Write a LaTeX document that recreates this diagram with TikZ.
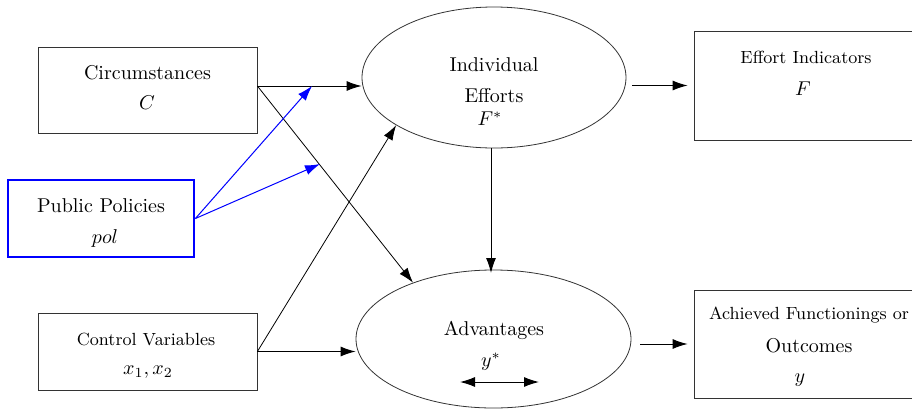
\documentclass[tikz,border=0pt]{standalone}
\usetikzlibrary{arrows.meta,shapes.geometric}
\begin{document}
\begin{tikzpicture}[x=0.5pt,y=-0.5pt,
  box/.style={draw=black!80,line width=0.4pt,rectangle,inner sep=0pt},
  pbox/.style={draw=blue,line width=1.4pt,rectangle,inner sep=0pt},
  ell/.style={draw=black!80,line width=0.4pt,ellipse,inner sep=0pt},
  big/.style={font=\fontsize{10}{12}\selectfont,inner sep=0pt},
  small/.style={font=\fontsize{8.8}{11}\selectfont,inner sep=0pt},
  arr/.style={-{Latex[length=7.5pt,width=5pt]},line width=0.5pt},
  thin/.style={line width=0.4pt},
  barr/.style={-{Latex[length=7.5pt,width=5pt]},line width=0.5pt,blue}]
\useasboundingbox (0,0) rectangle (912,408);
% boxes
\node[box,minimum width=109.5pt,minimum height=43pt] (circ) at (147.5,90) {};
\node[pbox,minimum width=93pt,minimum height=38.5pt] (pol) at (101,218.5) {};
\node[box,minimum width=109.5pt,minimum height=38.5pt] (ctrl) at (147.5,351.5) {};
\node[box,minimum width=109.5pt,minimum height=54.5pt] (effi) at (803.5,85.5) {};
\node[box,minimum width=109.5pt,minimum height=54pt] (outc) at (803.5,344) {};
\node[ell,minimum width=132pt,minimum height=70.5pt] (ie) at (494,77.5) {};
\node[ell,minimum width=137.5pt,minimum height=69pt] (adv) at (493.5,339) {};
% texts
\node[big] (circT) at (147.5,73) {Circumstances};
\node[big] (circM) at (147,103) {$C$};
\node[big] (polT) at (101,206) {Public Policies};
\node[big] (polM) at (105,238) {$pol$};
\node[small] (ctrlT) at (146,339) {Control Variables};
\node[big] (ctrlM) at (148,372) {$x_1,x_2$};
\node[big] (ieT1) at (494,65) {Individual};
\node[big] (ieT2) at (494,96) {Efforts};
\node[big] (ieM) at (490,119) {$F^{*}$};
\node[big] (advT) at (494,330) {Advantages};
\node[big] (advM) at (491,362) {$y^{*}$};
\node[small] (effiT) at (806,57) {Effort Indicators};
\node[big] (effiM) at (803,89) {$F$};
\node[small] (outcT1) at (809,315) {Achieved Functionings or};
\node[big] (outcT2) at (809,346) {Outcomes};
\node[big] (outcM) at (800,380) {$y$};
% connectors
\coordinate (cstart) at ([yshift=2pt]circ.east);
\draw[arr] (cstart) -- (ie.west |- cstart);
\draw[arr,thin] (cstart) -- (adv.145);
\coordinate (pe1) at (312,86);
\coordinate (pe2) at (320,164);
\draw[barr] (pol.east) -- (pe1);
\draw[barr] (pol.east) -- (pe2);
\draw[arr] (ctrl.east) -- (adv.west |- ctrl.east);
\draw[arr,thin] (ctrl.east) -- (ie.206);
\draw[arr] (491,148) -- (491,273);
\draw[arr,shorten <=3pt,shorten >=3pt] (effi.west -| ie.east) -- (effi.west);
\draw[arr,shorten <=4.5pt,shorten >=3pt] (outc.west -| adv.east) -- (outc.west);
\coordinate (dl) at (460,382);
\coordinate (dr) at (539,382);
\draw[{Latex[length=7.5pt,width=5pt]}-{Latex[length=7.5pt,width=5pt]},line width=0.5pt] (dl) -- (dr);
\end{tikzpicture}
\end{document}
